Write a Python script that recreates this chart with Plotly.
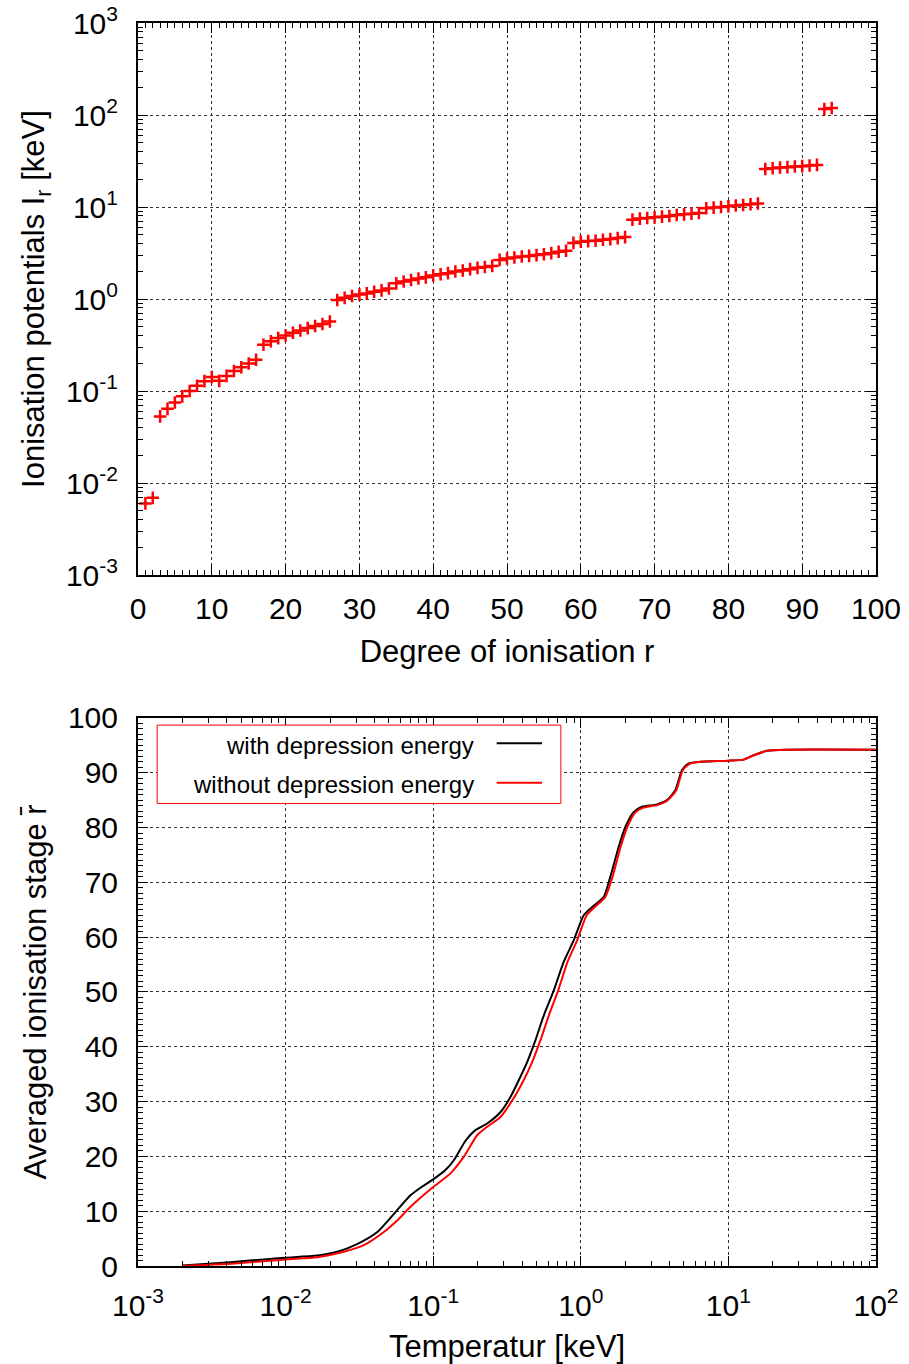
import plotly.graph_objects as go

# ---------------- data ----------------
degree = list(range(1, 95))
ion_pot = [0.0060, 0.0069, 0.053, 0.064, 0.075, 0.0875, 0.100, 0.114, 0.128, 0.142,
           0.129, 0.146, 0.165, 0.181, 0.199, 0.219, 0.318, 0.348, 0.376, 0.401,
           0.430, 0.455, 0.483, 0.508, 0.535, 0.570, 0.975, 1.03, 1.08, 1.12,
           1.15, 1.20, 1.24, 1.30, 1.48, 1.55, 1.61, 1.67, 1.72, 1.80,
           1.86, 1.91, 1.99, 2.04, 2.11, 2.18, 2.23, 2.29, 2.66, 2.76,
           2.83, 2.90, 2.94, 3.00, 3.07, 3.15, 3.26, 3.34, 4.07, 4.20,
           4.26, 4.30, 4.41, 4.48, 4.59, 4.71, 7.29, 7.48, 7.59, 7.72,
           7.86, 7.98, 8.18, 8.32, 8.47, 8.61, 9.68, 9.85, 10.0, 10.2,
           10.4, 10.5, 10.7, 10.9, 25.9, 26.4, 26.9, 27.1, 27.6, 27.8,
           28.3, 28.7, 116, 119]

temp_with = [0.0020, 0.00425, 0.00713, 0.0100, 0.0164, 0.0224, 0.0305, 0.0418, 0.0570,
             0.0702, 0.0843, 0.100, 0.121, 0.138, 0.166, 0.193, 0.232, 0.286, 0.333,
             0.380, 0.433, 0.493, 0.561, 0.656, 0.766, 0.895, 1.047, 1.194, 1.429,
             1.585, 1.807, 2.004, 2.280, 2.600, 3.281, 3.837, 4.365, 4.853, 5.383,
             6.457, 10.0, 12.68, 14.83, 18.28, 25.1, 100.0]
zbar_with = [0.1, 0.7, 1.2, 1.5, 1.9, 2.6, 4.0, 6.2, 10.2,
             12.9, 14.5, 15.8, 17.5, 19.3, 22.9, 24.8, 26.0, 28.1, 30.8,
             33.9, 37.2, 41.2, 45.7, 50.3, 55.5, 59.4, 64.0, 65.5, 67.3,
             71.0, 76.5, 80.1, 82.8, 83.8, 84.2, 85.0, 86.8, 90.5, 91.7,
             92.0, 92.2, 92.4, 93.2, 94.0, 94.2, 94.2]

temp_without = [0.0020, 0.00427, 0.0100, 0.0164, 0.0248, 0.0339, 0.0463, 0.0570, 0.0702,
                0.100, 0.131, 0.161, 0.199, 0.232, 0.286, 0.343, 0.410, 0.468, 0.533,
                0.607, 0.703, 0.813, 0.944, 1.096, 1.245, 1.462, 1.641, 1.862, 2.065,
                2.344, 2.630, 3.281, 3.837, 4.416, 4.898, 5.433, 6.457, 10.0, 12.68,
                14.83, 18.28, 25.1, 100.0]
zbar_without = [0.0, 0.4, 1.2, 1.6, 2.6, 3.8, 6.2, 8.3, 10.8,
                14.4, 16.9, 19.9, 23.9, 25.4, 27.2, 30.2, 33.9, 37.2, 41.2,
                45.7, 50.3, 55.5, 59.4, 64.0, 65.5, 67.3, 71.0, 76.5, 80.1,
                82.8, 83.6, 84.1, 84.9, 86.7, 90.4, 91.6, 92.0, 92.2, 92.4,
                93.2, 94.0, 94.2, 94.2]

top_ytickvals = [1e-3, 1e-2, 1e-1, 1, 10, 100, 1000]
top_yticktext = ["10<sup>-3</sup>", "10<sup>-2</sup>", "10<sup>-1</sup>", "10<sup>0</sup>",
                 "10<sup>1</sup>", "10<sup>2</sup>", "10<sup>3</sup>"]
bot_xtickvals = [1e-3, 1e-2, 1e-1, 1, 10, 100]
bot_xticktext = ["10<sup>-3</sup>", "10<sup>-2</sup>", "10<sup>-1</sup>", "10<sup>0</sup>",
                 "10<sup>1</sup>", "10<sup>2</sup>"]

legend_labels = ["with depression energy", "without depression energy"]
legend_colors = ["black", "red"]

# ---------------- figure ----------------
FONT = "Liberation Sans, Arial, sans-serif"
fig = go.Figure()

fig.add_trace(go.Scatter(
    x=degree, y=ion_pot, mode="markers", xaxis="x", yaxis="y",
    marker=dict(symbol="cross-thin", size=9, color="red",
                line=dict(color="red", width=2.5)),
    showlegend=False))

fig.add_trace(go.Scatter(
    x=temp_with, y=zbar_with, mode="lines", xaxis="x2", yaxis="y2",
    line=dict(color="black", width=2, shape="spline", smoothing=0.6),
    name=legend_labels[0], showlegend=False))
fig.add_trace(go.Scatter(
    x=temp_without, y=zbar_without, mode="lines", xaxis="x2", yaxis="y2",
    line=dict(color="red", width=2, shape="spline", smoothing=0.6),
    name=legend_labels[1], showlegend=False))

common = dict(showline=True, linecolor="black", linewidth=2, mirror="allticks",
              ticks="inside", ticklen=10, tickwidth=1, tickcolor="black",
              showgrid=True, gridcolor="#333333", griddash="dot", gridwidth=1,
              zeroline=False, automargin=False,
              tickfont=dict(size=30, color="black", family=FONT),
              title_font=dict(size=31, color="black", family=FONT))

top_dom = [0.5559, 1.0]
bot_dom = [0.0, 0.4409]

fig.update_layout(
    width=909, height=1364,
    margin=dict(l=138, r=33, t=23, b=98),
    paper_bgcolor="white", plot_bgcolor="white",
    font=dict(family=FONT, color="black", size=30),
    xaxis=dict(range=[0, 100], dtick=10, domain=[0, 1], anchor="y",
               title=dict(text="Degree of ionisation r", standoff=16),
               ticklabelstandoff=6,
               minor=dict(ticks="inside", ticklen=5, dtick=1, tickcolor="black", showgrid=False),
               **common),
    yaxis=dict(type="log", range=[-3, 3], domain=top_dom, anchor="x",
               tickvals=top_ytickvals, ticktext=top_yticktext,
               title=dict(text="Ionisation potentials I<sub>r</sub> [keV]", standoff=12),
               ticklabelstandoff=12,
               minor=dict(ticks="inside", ticklen=5, dtick="D1", tickcolor="black", showgrid=False),
               **common),
    xaxis2=dict(type="log", range=[-3, 2], domain=[0, 1], anchor="y2",
                tickvals=bot_xtickvals, ticktext=bot_xticktext,
                title=dict(text="Temperatur [keV]", standoff=14),
                ticklabelstandoff=12,
                minor=dict(ticks="inside", ticklen=5, dtick="D1", tickcolor="black", showgrid=False),
                **common),
    yaxis2=dict(range=[0, 100], dtick=10, domain=bot_dom, anchor="x2",
                title=dict(text="Averaged ionisation stage r\u0304", standoff=12),
                ticklabelstandoff=12,
                minor=dict(ticks="inside", ticklen=5, dtick=1, tickcolor="black", showgrid=False),
                **common),
)

# gnuplot-style key: text right-aligned, sample line on the right, red frame
shapes = [dict(type="rect", xref="x2 domain", yref="y2 domain",
               x0=0.026, x1=0.573, y0=0.844, y1=0.987,
               line=dict(color="red", width=1), fillcolor="white", layer="above")]
annotations = []
rows_y = [0.950, 0.878]
for lab, col, yy in zip(legend_labels, legend_colors, rows_y):
    annotations.append(dict(xref="x2 domain", yref="y2 domain", x=0.458, y=yy,
                            text=lab, showarrow=False, xanchor="right", yanchor="middle",
                            font=dict(size=24, color="black", family=FONT)))
    shapes.append(dict(type="line", xref="x2 domain", yref="y2 domain",
                       x0=0.486, x1=0.5475, y0=yy + 0.004, y1=yy + 0.004,
                       line=dict(color=col, width=2), layer="above"))
fig.update_layout(shapes=shapes, annotations=annotations)

fig.write_html("out.html", config={"displayModeBar": False})

# remove the browser's default 8px body margin so the figure sits at (0, 0)
with open("out.html", "r", encoding="utf-8") as f:
    html = f.read()
html = html.replace("<body>", '<body style="margin:0;padding:0;">', 1)
with open("out.html", "w", encoding="utf-8") as f:
    f.write(html)
